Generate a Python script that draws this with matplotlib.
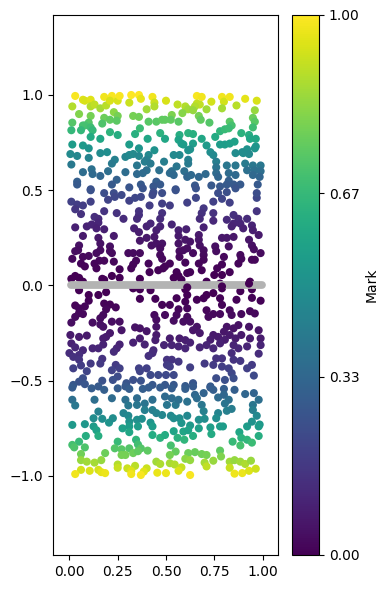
import matplotlib
matplotlib.use("Agg")
import matplotlib.pyplot as plt

# (x, y), one list per horizontal band
band_top = [
    (.03,.995),(.07,.975),(.08,.97),(.11,.975),(.11,.94),(.13,.95),(.16,.93),(.18,.99),(.22,.995),(.19,.945),
    (.21,.97),(.25,.97),(.26,.995),(.31,.96),(.32,1.0),(.36,1.0),(.37,.98),(.43,.99),(.44,.96),(.44,.94),
    (.40,.925),(.50,.97),(.56,.95),(.60,.94),(.615,.925),(.66,.995),(.685,.99),(.66,.955),(.675,.95),(.65,.94),
    (.71,.925),(.735,.965),(.79,.99),(.80,.965),(.79,.93),(.83,.99),(.865,.945),(.91,.98),(.97,.97),(.96,.92),
    (.015,.94),
    (.05,.90),(.11,.89),(.23,.91),(.25,.89),(.18,.88),(.21,.87),(.245,.865),(.33,.89),(.36,.885),(.41,.86),
    (.45,.86),(.48,.87),(.495,.87),(.53,.895),(.525,.87),(.565,.86),(.585,.905),(.64,.92),(.67,.89),(.68,.87),
    (.725,.855),(.95,.88),(.96,.86),(.015,.855),(.10,.855),(.07,.84),(.17,.85),(.08,.84),
    (.01,.815),(.06,.815),(.11,.83),(.12,.815),(.11,.78),(.16,.77),(.21,.805),(.25,.79),(.365,.825),(.34,.795),
    (.405,.77),(.47,.80),(.495,.77),(.57,.79),(.565,.765),(.615,.80),(.64,.795),(.685,.77),(.755,.78),(.78,.81),
    (.805,.82),(.83,.86),(.84,.84),(.825,.825),(.89,.80),(.93,.79),(.95,.83),(.935,.77),(.965,.77),
]

band_upper = [
    (.015,.74),(.07,.735),(.10,.72),(.31,.74),(.36,.72),(.58,.745),(.59,.74),(.64,.745),(.71,.735),(.78,.74),
    (.805,.74),(.83,.745),(.855,.755),(.965,.73),(.96,.72),(.16,.695),(.195,.70),(.44,.71),(.005,.69),(.04,.68),
    (.10,.67),(.29,.675),(.31,.685),(.33,.69),(.36,.68),(.41,.685),(.40,.66),(.54,.685),(.57,.685),(.615,.71),
    (.625,.715),(.73,.70),(.745,.685),(.86,.695),(.895,.70),(.92,.715),(.93,.69),(.90,.695),
    (.01,.635),(.235,.66),(.22,.64),(.49,.65),(.615,.66),(.615,.64),(.76,.65),(.35,.63),(.39,.65),(.42,.64),
    (.815,.63),(.86,.63),(.91,.64),(.95,.63),(.99,.63),(.20,.60),(.115,.61),(.12,.585),(.07,.595),(.16,.575),
    (.29,.595),(.35,.585),(.40,.605),(.38,.59),(.465,.605),(.53,.60),(.555,.625),(.595,.60),(.52,.59),(.54,.58),
    (.61,.57),(.63,.58),(.67,.57),(.705,.585),(.76,.62),(.76,.59),(.77,.57),(.825,.59),(.86,.58),(.92,.605),
    (.96,.605),(.99,.60),(.95,.58),(.985,.57),
    (.04,.545),(.04,.53),(.245,.555),(.22,.53),(.11,.505),(.31,.515),(.37,.53),(.38,.51),(.45,.545),(.47,.53),
    (.435,.52),(.55,.505),(.65,.525),(.735,.525),(.825,.55),(.78,.52),(.815,.53),(.85,.53),(.885,.53),(.975,.53),
]

band_mid = [
    (.11,.50),(.18,.485),(.23,.485),(.20,.45),(.235,.465),(.27,.475),(.31,.445),(.34,.46),(.37,.465),(.415,.42),
    (.435,.49),(.43,.475),(.48,.485),(.55,.50),(.48,.43),(.52,.42),(.61,.435),(.655,.46),(.655,.51),(.745,.44),
    (.79,.455),(.83,.435),(.77,.485),(.815,.49),(.86,.51),(.97,.46),(.97,.485),(.01,.44),(.04,.425),(.07,.42),
    (.03,.40),(.06,.375),(.11,.44),(.18,.39),(.245,.38),(.28,.35),(.36,.39),(.36,.37),(.35,.35),(.48,.38),
    (.47,.35),(.695,.405),(.685,.38),(.675,.35),(.745,.38),(.745,.34),(.97,.39),(.13,.36),(.15,.35),(.15,.33),
    (.815,.345),(.85,.37),(.875,.35),(.92,.35),(.85,.325),(.885,.325),(.84,.31),(.90,.30),(.945,.315),(.95,.29),
    (.03,.305),(.09,.31),(.115,.32),(.14,.30),(.18,.295),(.335,.30),(.36,.28),(.40,.31),(.42,.325),(.47,.31),
    (.45,.29),(.53,.32),(.565,.29),(.605,.295),(.695,.305),(.07,.26),(.23,.26),(.15,.25),(.16,.22),(.21,.205),
    (.98,.265),(.67,.265),(.67,.24),(.565,.26),(.60,.24),(.625,.23),(.675,.21),(.40,.25),(.44,.255),(.365,.235),
    (.425,.21),(.45,.22),(.48,.22),(.47,.195),(.79,.25),(.815,.25),(.85,.255),(.93,.24),(.945,.21),(.955,.19),
    (.825,.205),(.755,.205),(.76,.18),(.565,.22),(.59,.185),(.61,.195),(.64,.17),(.695,.185),(.695,.16),(.05,.21),
    (.045,.185),(.16,.185),(.14,.17),(.21,.18),(.22,.17),(.305,.17),(.33,.17),(.365,.17),(.03,.18),(.015,.14),
    (.07,.15),(.10,.155),(.06,.115),(.08,.10),(.155,.13),(.13,.115),(.14,.09),(.18,.13),(.23,.125),(.47,.16),
    (.48,.14),(.57,.18),(.57,.15),(.60,.12),(.695,.135),(.67,.115),(.885,.16),(.89,.14),(.945,.135),(.96,.135),
    (.99,.17),(.80,.15),(.79,.11),(.765,.09),(.345,.13),(.33,.11),(.32,.09),(.41,.115),(.415,.07),(.46,.08),
    (.485,.09),(.52,.115),(.495,.10),(.26,.085),(.26,.04),(.22,.05),(.17,.035),(.18,.03),(.03,.05),
]

band_zero = [
    (.01,.035),(.05,.04),(.07,.02),(.365,.035),(.555,.07),(.565,.05),(.54,.04),(.58,.03),(.61,.065),(.625,.07),
    (.685,.08),(.75,.055),(.79,.055),(.83,.07),(.875,.115),(.71,.02),(.78,.01),(.935,.02),
    (.05,-.025),(.10,-.05),(.15,-.05),(.19,-.035),(.33,-.015),(.365,-.02),(.42,-.025),(.365,-.07),(.445,-.07),
    (.555,-.067),(.61,-.05),(.60,-.085),(.66,-.075),(.695,-.067),(.60,-.02),(.79,-.015),(.885,-.03),(.945,-.02),
    (.71,-.05),(.745,-.04),(.78,-.067),(.865,-.075),(.945,-.065),(.99,-.08),
]

band_lower = [
    (.10,-.08),(.03,-.105),(.18,-.095),(.21,-.10),(.19,-.125),(.24,-.115),(.175,-.155),(.16,-.172),(.08,-.11),
    (.05,-.12),(.05,-.145),(.03,-.165),(.01,-.195),(.07,-.15),(.48,-.102),(.52,-.102),(.565,-.125),(.495,-.155),
    (.44,-.155),(.555,-.155),(.61,-.12),(.61,-.165),(.54,-.185),(.59,-.19),(.625,-.19),(.66,-.217),(.64,-.235),
    (.45,-.18),(.45,-.217),(.71,-.13),(.79,-.102),(.83,-.13),(.84,-.155),(.78,-.15),(.745,-.15),(.72,-.165),
    (.935,-.135),(.96,-.147),(.89,-.15),(.12,-.195),(.16,-.205),(.175,-.217),(.22,-.19),(.26,-.19),(.27,-.235),
    (.34,-.22),(.365,-.225),(.40,-.24),(.005,-.26),(.05,-.27),(.09,-.263),(.21,-.25),(.19,-.27),(.175,-.278),
    (.815,-.217),(.875,-.208),(.93,-.217),(.98,-.235),(.85,-.225),(.80,-.243),(.675,-.25),(.745,-.26),(.73,-.285),
    (.77,-.27),(.805,-.285),(.83,-.26),(.86,-.278),(.89,-.26),(.935,-.278),(.99,-.278),
    (.45,-.26),(.445,-.287),(.365,-.278),(.33,-.30),(.39,-.31),(.52,-.278),(.57,-.278),(.60,-.287),(.625,-.30),
    (.53,-.313),(.565,-.32),(.60,-.33),(.49,-.313),(.435,-.34),(.675,-.325),(.71,-.313),(.745,-.33),(.78,-.304),
    (.85,-.313),(.875,-.33),(.92,-.32),(.99,-.313),(.98,-.358),(.26,-.31),(.245,-.33),(.23,-.348),(.175,-.31),
    (.15,-.33),(.12,-.33),(.01,-.304),(.03,-.325),(.00,-.355),(.07,-.34),(.05,-.365),(.02,-.375),(.05,-.39),
    (.43,-.355),(.41,-.37),(.17,-.385),(.16,-.41),(.11,-.41),(.06,-.42),(.02,-.435),(.09,-.45),(.24,-.417),
    (.22,-.445),(.26,-.435),(.505,-.39),(.53,-.39),(.505,-.417),(.52,-.426),(.565,-.40),(.625,-.43),(.70,-.41),
    (.76,-.383),(.79,-.383),(.84,-.355),(.85,-.39),(.885,-.396),(.745,-.417),(.79,-.426),(.825,-.435),(.945,-.417),
    (.92,-.435),(.84,-.46),(.85,-.487),(.36,-.435),(.40,-.435),(.42,-.47),(.365,-.45),(.46,-.47),(.50,-.47),
    (.54,-.47),(.955,-.473),(.76,-.487),(.805,-.496),
]

band_low = [
    (.25,-.478),(.225,-.496),(.07,-.487),(.05,-.505),(.02,-.522),(.08,-.518),(.17,-.50),(.295,-.513),(.33,-.496),
    (.37,-.5),(.43,-.522),(.495,-.522),(.54,-.522),(.60,-.528),(.64,-.513),(.73,-.53),
    (.015,-.536),(.115,-.54),(.15,-.53),(.18,-.548),(.25,-.54),(.29,-.53),(.31,-.543),(.38,-.543),(.41,-.536),
    (.47,-.536),(.53,-.54),(.60,-.543),(.64,-.53),(.73,-.536),(.745,-.548),(.80,-.543),(.855,-.548),(.91,-.57),
    (.955,-.565),(.015,-.60),(.03,-.63),(.13,-.60),(.22,-.592),(.29,-.60),(.305,-.63),(.35,-.592),(.35,-.627),
    (.39,-.62),(.43,-.60),(.43,-.654),(.39,-.654),(.45,-.67),(.495,-.583),(.505,-.627),(.53,-.592),(.55,-.627),
    (.565,-.60),(.61,-.61),(.65,-.574),(.66,-.592),(.695,-.565),(.685,-.627),(.695,-.66),(.77,-.588),(.80,-.574),
    (.825,-.60),(.805,-.62),(.98,-.60),(.95,-.627),(.95,-.654),(.97,-.684),(.15,-.662),(.28,-.67),(.305,-.684),
    (.31,-.715),(.48,-.68),(.525,-.684),(.54,-.697),(.57,-.697),(.58,-.722),(.61,-.684),(.67,-.705),(.70,-.70),
    (.77,-.67),(.815,-.658),(.84,-.648),(.76,-.697),(.125,-.697),(.08,-.728),(.17,-.70),(.205,-.72),(.225,-.697),
]

band_bottom = [
    (.015,-.732),(.125,-.74),(.14,-.76),(.15,-.79),(.085,-.79),(.275,-.75),(.31,-.74),(.31,-.77),(.35,-.705),
    (.375,-.70),(.42,-.72),(.43,-.74),(.355,-.74),(.43,-.785),(.47,-.80),(.495,-.785),(.54,-.765),(.56,-.80),
    (.595,-.81),(.59,-.767),(.625,-.735),(.615,-.76),(.64,-.79),(.67,-.75),(.73,-.745),(.735,-.78),(.78,-.74),
    (.795,-.74),(.92,-.74),(.945,-.715),(.985,-.73),(.98,-.74),(.88,-.77),(.98,-.79),(.845,-.82),(.89,-.80),
    (.92,-.81),(.945,-.825),(.885,-.84),(.05,-.82),(.015,-.837),(.025,-.85),(.08,-.85),(.25,-.82),(.235,-.855),
    (.27,-.86),(.31,-.855),(.345,-.81),(.355,-.835),(.37,-.855),(.405,-.867),(.33,-.88),(.355,-.87),(.29,-.89),
    (.27,-.89),(.525,-.84),(.55,-.872),(.52,-.89),(.65,-.875),(.615,-.88),(.60,-.91),(.625,-.917),(.685,-.885),
    (.71,-.89),(.78,-.867),(.785,-.898),(.06,-.885),(.06,-.917),(.09,-.925),(.13,-.93),(.165,-.917),(.185,-.88),
    (.745,-.92),(.70,-.93),(.71,-.95),(.45,-.925),(.47,-.937),(.52,-.933),(.545,-.94),(.58,-.955),(.83,-.925),
    (.855,-.917),(.885,-.925),(.91,-.937),(.94,-.92),(.83,-.957),(.25,-.94),(.25,-.957),(.30,-.96),(.34,-.947),
    (.32,-.973),(.40,-.96),(.385,-.977),(.06,-.968),(.105,-.973),(.15,-.968),(.165,-.98),(.185,-.985),(.03,-.99),
    (.32,-.99),(.37,-.995),(.455,-.983),(.50,-.985),(.565,-.973),(.625,-.995),(.855,-.988),(.895,-.985),(.93,-.973),
    (.965,-.962),
]

# points sitting over the grey strip
band_over = [(.61,-.01),(.79,-.005),(.93,.01)]

strip_x = [0.01, 0.995]
strip_y = [0.0, 0.0]
cbar_ticks = [0.0, 0.33, 0.67, 1.0]

points = band_top + band_upper + band_mid + band_zero + band_lower + band_low + band_bottom
x = [p[0] for p in points]
y = [p[1] for p in points]
mark = [v ** 2 for v in y]

W, H = 389, 589
fig = plt.figure(figsize=(W / 100, H / 100), dpi=100)
ax = fig.add_axes([53 / W, (H - 555) / H, 225 / W, 540 / H])
cax = fig.add_axes([292 / W, (H - 555) / H, 27 / W, 540 / H])

sc = ax.scatter(x, y, c=mark, cmap="viridis", vmin=0, vmax=1, s=34, linewidths=0, zorder=2)
ax.plot(strip_x, strip_y, color="#b3b3b3", lw=5.6, solid_capstyle="round", zorder=3)
ax.scatter([p[0] for p in band_over], [p[1] for p in band_over],
           c=[p[1] ** 2 for p in band_over], cmap="viridis", vmin=0, vmax=1, s=34, linewidths=0, zorder=4)

ax.set_xlim(-0.085, 1.08)
ax.set_ylim(-1.415, 1.42)
ax.set_xticks([0, 0.25, 0.5, 0.75, 1.0])
ax.set_xticklabels(["0.00", "0.25", "0.50", "0.75", "1.00"])
ax.set_yticks([-1.0, -0.5, 0.0, 0.5, 1.0])

cb = fig.colorbar(sc, cax=cax)
cb.set_ticks(cbar_ticks)
cb.set_ticklabels(["0.00", "0.33", "0.67", "1.00"])
cb.set_label("Mark")

fig.savefig("out.png", dpi=100)
